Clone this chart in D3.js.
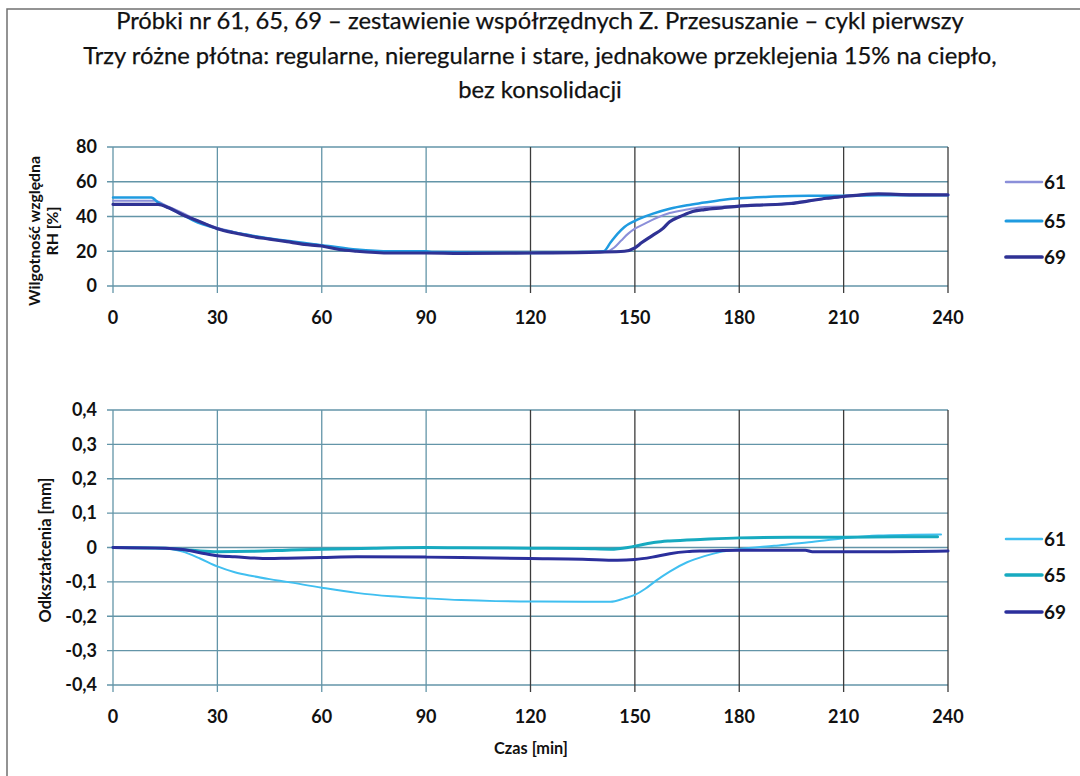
<!DOCTYPE html>
<html><head><meta charset="utf-8">
<script src="https://cdn.jsdelivr.net/npm/d3@7/dist/d3.min.js"></script>
<style>html,body{margin:0;padding:0;background:#fff;}svg{display:block;}</style>
</head><body>
<svg id="chart" width="1080" height="776"></svg>
<script>
// ---------------- DATA ----------------
const titleLines = [
  "Próbki nr 61, 65, 69 – zestawienie współrzędnych Z. Przesuszanie – cykl pierwszy",
  "Trzy różne płótna: regularne, nieregularne i stare, jednakowe przeklejenia 15% na ciepło,",
  "bez konsolidacji"
];
const seriesNames = ["61", "65", "69"];
const xTicks = [0, 30, 60, 90, 120, 150, 180, 210, 240];
const rhTicks = [0, 20, 40, 60, 80];
const defTicks = [-0.4, -0.3, -0.2, -0.1, 0, 0.1, 0.2, 0.3, 0.4];
const defTickLabels = ["-0,4", "-0,3", "-0,2", "-0,1", "0", "0,1", "0,2", "0,3", "0,4"];
const rhAxisTitle = ["Wilgotność względna", "RH [%]"];
const defAxisTitle = "Odkształcenia [mm]";
const xAxisTitle = "Czas [min]";

// RH [%] vs time [min]
const rh61 = [[0,49],[12,49],[15,46.5],[20,42],[25,37],[30,33.5],[35,31],[40,29],[45,27],[50,25.5],[55,24],[60,23],[65,21.5],[70,20.5],[80,19.5],[90,19.5],[100,19],[120,19],[135,19.5],[142,20],[144,22],[146,26],[148,30],[150,33],[153,36],[156,39],[160,42],[165,44],[170,45.5],[180,46],[190,47],[200,49],[210,51.5],[218,53],[230,53],[240,52.5]];
const rh65 = [[0,51],[11,51],[13,48],[17,44],[20,41],[25,36],[30,33],[40,29],[50,26],[60,23.5],[62,23],[70,21],[80,20],[90,20],[92,19.5],[120,19],[135,19.5],[141,20],[143,25],[145,30],[147,34],[150,37.5],[155,41.5],[160,44.5],[165,46.5],[170,48],[175,49.5],[180,50.5],[190,51.5],[200,52],[210,52],[220,52.3],[240,52.3]];
const rh69 = [[0,47],[13,47],[16,45],[20,41],[25,37],[30,33],[35,30.5],[40,28.5],[45,27],[50,25.5],[55,24],[60,23],[65,21],[70,20],[80,19],[90,19],[100,18.8],[120,19],[140,19.5],[147,20],[150,22],[152,25],[155,29],[158,33],[160,37],[163,40],[166,42.5],[170,44],[175,45],[180,46],[185,46.5],[195,47.5],[200,49],[205,50.5],[210,51.5],[215,52.5],[220,53],[230,52.5],[240,52.5]];

// Deformation [mm] vs time [min]
const def61 = [[0,0],[15,-0.002],[20,-0.012],[25,-0.032],[30,-0.055],[35,-0.072],[40,-0.083],[45,-0.092],[50,-0.1],[60,-0.117],[70,-0.132],[80,-0.142],[90,-0.148],[100,-0.153],[110,-0.156],[120,-0.157],[135,-0.158],[143,-0.158],[147,-0.148],[150,-0.138],[153,-0.12],[156,-0.097],[160,-0.07],[165,-0.043],[170,-0.025],[175,-0.012],[180,-0.005],[190,0.005],[200,0.015],[210,0.027],[220,0.035],[230,0.037],[238,0.038]];
const def65 = [[0,0],[15,-0.002],[20,-0.006],[25,-0.01],[30,-0.012],[40,-0.011],[50,-0.008],[60,-0.005],[75,-0.002],[90,0],[100,-0.001],[120,-0.002],[135,-0.003],[143,-0.005],[148,0],[152,0.008],[156,0.015],[160,0.019],[170,0.024],[180,0.028],[195,0.03],[210,0.03],[225,0.031],[237,0.031]];
const def69 = [[0,0],[15,-0.002],[20,-0.006],[25,-0.015],[30,-0.024],[35,-0.027],[45,-0.032],[50,-0.031],[60,-0.029],[70,-0.027],[90,-0.028],[105,-0.03],[120,-0.032],[135,-0.034],[145,-0.037],[150,-0.035],[155,-0.028],[160,-0.018],[165,-0.012],[170,-0.01],[180,-0.008],[199,-0.008],[201,-0.012],[220,-0.012],[240,-0.01]];

const rhSeries = [rh61, rh65, rh69];
const defSeries = [def61, def65, def69];

// ---------------- STYLE ----------------
const rhColors = ["#8b8fd9", "#1f9be0", "#2f3294"];
const rhWidths = [2, 2.5, 3.2];
const defColors = ["#40bff0", "#17aac0", "#2b2f9c"];
const defWidths = [2, 3, 3];
const gridTeal = "#6395a8";
const gridDark = "#3c3c3c";
const FONT = "Lato, 'Open Sans', sans-serif";

const svg = d3.select("#chart");

function fitWidth(sel, target) {
  const fs = parseFloat(sel.attr("font-size"));
  const w = sel.node().getComputedTextLength();
  sel.attr("font-size", fs * target / w);
  return fs * target / w;
}
// font size that makes a sample string span a target width
function sizeFor(str, target, weight) {
  const t = svg.append("text").attr("font-family", FONT).attr("font-weight", weight)
    .attr("font-size", 20).text(str);
  const fs = 20 * target / t.node().getComputedTextLength();
  t.remove();
  return fs;
}

svg.append("rect").attr("x", 7).attr("y", 9).attr("width", 1085).attr("height", 790)
  .attr("fill", "#fff").attr("stroke", "#707070").attr("stroke-width", 1.5);

const title = svg.append("g");
const tY = [29, 64, 98];
title.selectAll("text").data(titleLines).join("text")
  .attr("x", 540).attr("y", (d, i) => tY[i])
  .attr("text-anchor", "middle").attr("font-family", FONT)
  .attr("font-size", 20).attr("fill", "#111").attr("stroke", "#111").attr("stroke-width", 0.25)
  .text(d => d);
{
  const fs = fitWidth(title.select("text"), 848);
  title.selectAll("text").attr("font-size", fs);
}

const tickFS = Math.min(18, sizeFor("240", 35, "bold"));
const legendFS = Math.min(22, sizeFor("61", 22, "bold"));

const x = d3.scaleLinear().domain([0, 240]).range([113, 948]);

function panel(yScale, ticks, tickFmt, series, colors, widths, xLabelY) {
  const g = svg.append("g");
  const [yb, yt] = yScale.range();
  g.selectAll(".hg").data(ticks).join("line")
    .attr("x1", x(0) - 6).attr("x2", x(240))
    .attr("y1", d => yScale(d)).attr("y2", d => yScale(d))
    .attr("stroke", gridTeal).attr("stroke-width", 1.3);
  g.selectAll(".vg").data(xTicks).join("line")
    .attr("x1", d => x(d)).attr("x2", d => x(d))
    .attr("y1", yb + 7).attr("y2", yt)
    .attr("stroke", d => d >= 120 ? gridDark : gridTeal).attr("stroke-width", 1.3);
  g.selectAll(".yl").data(ticks).join("text")
    .attr("x", 97).attr("y", d => yScale(d)).attr("dy", "0.35em")
    .attr("text-anchor", "end").attr("font-family", FONT).attr("font-weight", "bold")
    .attr("font-size", tickFS).attr("fill", "#111").text((d, i) => tickFmt(d, i));
  g.selectAll(".xl").data(xTicks).join("text")
    .attr("x", d => x(d)).attr("y", xLabelY).attr("dy", "0.35em")
    .attr("text-anchor", "middle").attr("font-family", FONT).attr("font-weight", "bold")
    .attr("font-size", tickFS).attr("fill", "#111").text(d => d);
  const line = d3.line().x(d => x(d[0])).y(d => yScale(d[1])).curve(d3.curveMonotoneX);
  series.forEach((s, i) => {
    g.append("path").datum(s).attr("d", line).attr("fill", "none")
      .attr("stroke", colors[i]).attr("stroke-width", widths[i])
      .attr("stroke-linejoin", "round").attr("stroke-linecap", "round");
  });
  return g;
}

const yRH = d3.scaleLinear().domain([0, 80]).range([286, 147]);
panel(yRH, rhTicks, d => d, rhSeries, rhColors, rhWidths, 318);

const yDef = d3.scaleLinear().domain([-0.4, 0.4]).range([685, 410]);
panel(yDef, defTicks, (d, i) => defTickLabels[i], defSeries, defColors, defWidths, 717);

const rhT = svg.append("g").attr("transform", "translate(34,231) rotate(-90)");
rhT.selectAll("text").data(rhAxisTitle).join("text")
  .attr("x", 0).attr("y", (d, i) => i * 18).attr("dy", "0.35em")
  .attr("text-anchor", "middle").attr("font-family", FONT).attr("font-weight", "bold")
  .attr("font-size", 14).attr("fill", "#111").text(d => d);
{
  const fs = fitWidth(rhT.select("text"), 150);
  rhT.selectAll("text").attr("font-size", fs);
}
const dT = svg.append("text").attr("transform", "translate(45,550) rotate(-90)")
  .attr("dy", "0.35em").attr("text-anchor", "middle").attr("font-family", FONT)
  .attr("font-weight", "bold").attr("font-size", 14).attr("fill", "#111").text(defAxisTitle);
fitWidth(dT, 145);
const xT = svg.append("text").attr("x", 531).attr("y", 748).attr("dy", "0.35em")
  .attr("text-anchor", "middle").attr("font-family", FONT).attr("font-weight", "bold")
  .attr("font-size", 14).attr("fill", "#111").text(xAxisTitle);
fitWidth(xT, 74);

function legend(yPos, colors, widths) {
  const g = svg.append("g");
  seriesNames.forEach((n, i) => {
    g.append("line").attr("x1", 1006).attr("x2", 1042).attr("y1", yPos[i]).attr("y2", yPos[i])
      .attr("stroke", colors[i]).attr("stroke-width", widths[i] + 0.5).attr("stroke-linecap", "round");
    g.append("text").attr("x", 1044).attr("y", yPos[i]).attr("dy", "0.36em")
      .attr("font-family", FONT).attr("font-weight", "bold").attr("font-size", legendFS)
      .attr("fill", "#111").text(n);
  });
}
legend([182, 221, 257], rhColors, rhWidths);
legend([539, 575, 612], defColors, defWidths);
</script>
</body></html>
